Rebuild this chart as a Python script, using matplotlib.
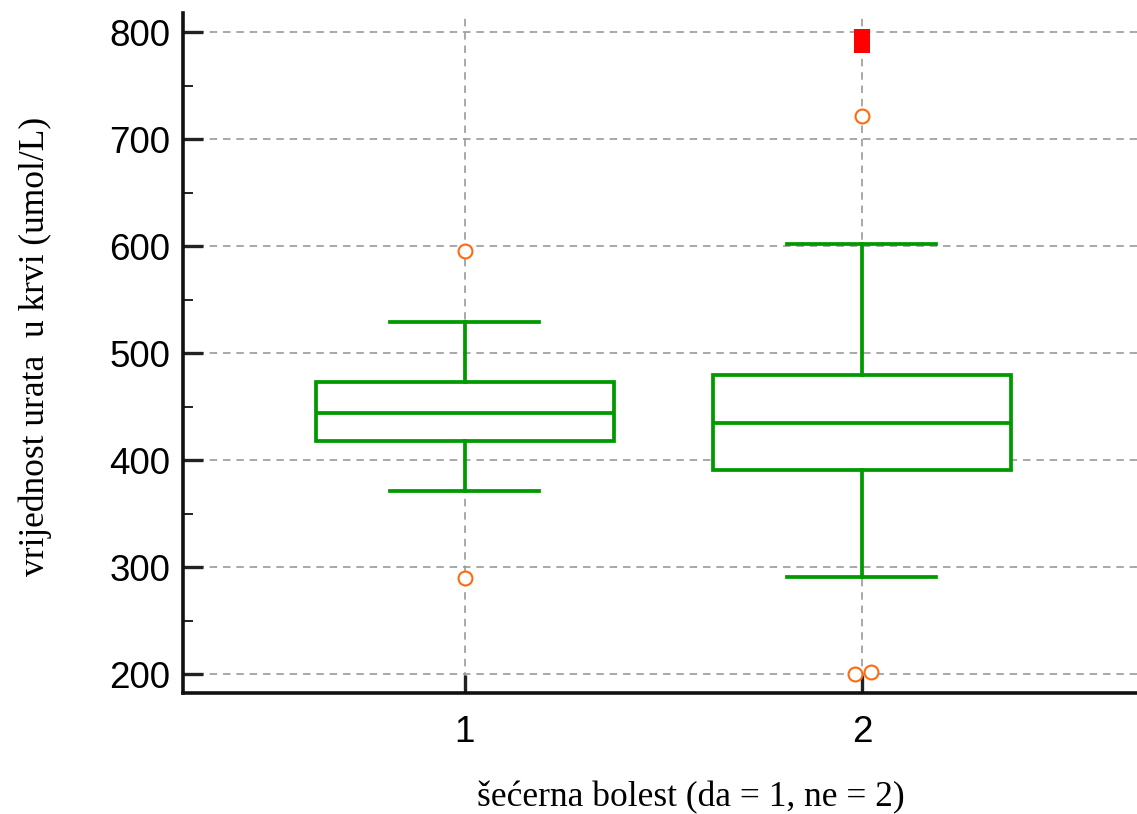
import numpy as np
import matplotlib
matplotlib.use("Agg")
import matplotlib.pyplot as plt

# group labels on x axis
groups = [1, 2]

# box statistics
q1 = [418, 391]
medians = [444, 435]
q3 = [473, 480]
whisker_lo = [371, 291]
whisker_hi = [529, 602]

# outside values (orange circles)
outlier_x = [1, 1, 2, 1.982, 2.023]
outlier_y = [596, 290, 722, 200, 202]

# far out values (red squares)
far_x = [2]
far_y = [792]

y_ticks = [200, 300, 400, 500, 600, 700, 800]

green = "#009a00"


def main():
    fig = plt.figure(figsize=(11.37, 8.14), dpi=100)
    ax = fig.add_axes([183 / 1137, 1 - 693 / 814, 954 / 1137, 680 / 814])

    stats = []
    for i in range(len(groups)):
        stats.append(dict(med=medians[i], q1=q1[i], q3=q3[i],
                          whislo=whisker_lo[i], whishi=whisker_hi[i], fliers=[]))

    lw = 2.7
    ax.bxp(stats, positions=groups, widths=0.75, patch_artist=True,
           showfliers=False, capwidths=0.375,
           boxprops=dict(facecolor="white", edgecolor=green, linewidth=lw),
           medianprops=dict(color=green, linewidth=lw),
           whiskerprops=dict(color=green, linewidth=lw),
           capprops=dict(color=green, linewidth=lw),
           zorder=3)

    ax.plot(outlier_x, outlier_y, linestyle="none", marker="o", markersize=10,
            markerfacecolor="white", markeredgecolor="#ff6a10",
            markeredgewidth=1.5, zorder=4)

    rect = [(-0.3125, -0.5), (0.3125, -0.5), (0.3125, 0.5), (-0.3125, 0.5), (-0.3125, -0.5)]
    ax.plot(far_x, far_y, linestyle="none", marker=rect, markersize=17.5,
            color="#ff0000", markeredgewidth=0, zorder=4)

    ax.set_xlim(0.29, 2.693)
    ax.set_ylim(182.5, 818.2)
    ax.set_xticks(groups)
    ax.set_xticklabels([str(g) for g in groups])
    ax.set_yticks(y_ticks)
    ax.set_yticks(np.arange(250, 800, 100), minor=True)

    ax.grid(True, which="major", color="#9a9a9a", linestyle=(0, (4.5, 3.5)),
            linewidth=1.2, zorder=0)
    ax.set_axisbelow(True)

    for s in ["top", "right"]:
        ax.spines[s].set_visible(False)
    for s in ["left", "bottom"]:
        ax.spines[s].set_linewidth(2.6)
        ax.spines[s].set_color("#111111")

    ax.tick_params(axis="y", which="major", direction="in", length=14.5, width=2.4,
                   pad=9, labelsize=26.5, color="#222222")
    ax.tick_params(axis="y", which="minor", direction="in", length=7.2, width=1.4,
                   color="#222222")
    ax.tick_params(axis="x", which="major", direction="in", length=13, width=2.4,
                   pad=16, labelsize=26.5, color="#222222")
    for lab in ax.get_xticklabels() + ax.get_yticklabels():
        lab.set_family("Liberation Sans")

    fig.text(35 / 1137, 1 - 346 / 814, "vrijednost urata  u krvi (umol/L)",
             rotation=90, ha="center", va="center", fontsize=25.5,
             family="Liberation Serif")
    fig.text(691 / 1137, 1 - 798 / 814, "šećerna bolest (da = 1, ne = 2)",
             ha="center", va="center", fontsize=25.5, family="Liberation Serif")

    fig.savefig("out.png", dpi=100)


if __name__ == "__main__":
    main()
